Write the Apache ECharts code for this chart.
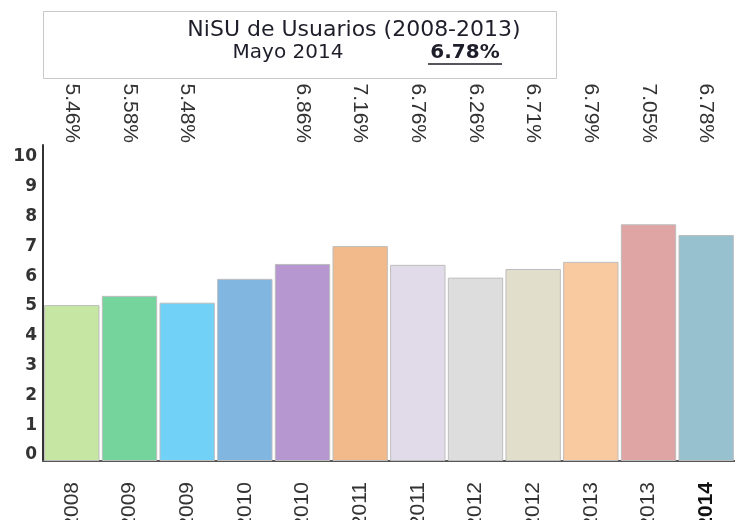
<!DOCTYPE html>
<html>
<head>
<meta charset="utf-8">
<script src="https://cdn.jsdelivr.net/npm/echarts@6/dist/echarts.min.js"></script>
<style>
  html, body { margin: 0; padding: 0; background: #fff; }
  #chart { width: 735px; height: 520px; }
</style>
</head>
<body>
<div id="chart"></div>
<script>
// NiSU de Usuarios - barras por periodo
const years = ["2008", "2009", "2009", "2010", "2010", "2011", "2011", "2012", "2012", "2013", "2013", "2014"];
const values = [5.23, 5.54, 5.31, 6.11, 6.61, 7.21, 6.58, 6.15, 6.44, 6.68, 7.94, 7.58];
const topLabels = ["5.46%", "5.58%", "5.48%", "", "6.86%", "7.16%", "6.76%", "6.26%", "6.71%", "6.79%", "7.05%", "6.78%"];
const barColors = ["#c6e6a4", "#74d49c", "#71d1f6", "#80b6df", "#b697cf", "#f2ba8a",
  "#e1dbe9", "#dddddd", "#e1dfcb", "#f9c9a0", "#dfa5a4", "#98c1cf"];

const narrow = "'Liberation Sans', Arial, sans-serif";
const chart = echarts.init(document.getElementById("chart"));

chart.setOption({
  animation: false,
  grid: { left: 43, right: 0, top: 145, bottom: 59, containLabel: false, outerBoundsMode: "none" },
  xAxis: [
    {
      type: "category",
      position: "bottom",
      offset: 2,
      data: years.map((y, i) => i === years.length - 1
        ? { value: y, textStyle: { color: "#111", fontWeight: "bold" } }
        : y),
      axisLine: { lineStyle: { color: "#555", width: 2 } },
      axisTick: { show: false },
      axisLabel: { interval: 0, rotate: 90, margin: 19, color: "#333", fontSize: 21, fontFamily: narrow }
    },
    {
      type: "category",
      position: "top",
      data: topLabels,
      axisLine: { show: false },
      axisTick: { show: false },
      axisLabel: { interval: 0, rotate: 90, margin: 2, color: "#333", fontSize: 21, fontFamily: narrow }
    }
  ],
  yAxis: {
    type: "value",
    min: 0,
    max: 10.6,
    interval: 1,
    splitLine: { show: false },
    axisLine: { show: true, lineStyle: { color: "#333", width: 2 } },
    axisTick: { show: false },
    axisLabel: {
      margin: 6,
      verticalAlign: "bottom",
      lineHeight: 12,
      color: "#333",
      fontSize: 17,
      fontWeight: "bold",
      fontFamily: "'DejaVu Sans', Verdana, sans-serif",
      formatter: (v) => (Math.abs(v - Math.round(v)) < 1e-6 ? String(Math.round(v)) : "")
    }
  },
  series: [{
    type: "bar",
    xAxisIndex: 0,
    barCategoryGap: "4%",
    data: values.map((v, i) => ({ value: v, itemStyle: { color: barColors[i] } })),
    itemStyle: { borderColor: "#bdbdbd", borderWidth: 1 }
  }],
  graphic: [
    {
      type: "rect",
      shape: { x: 43.5, y: 11.5, width: 513, height: 67 },
      style: { fill: "#fff", stroke: "#c8c8c8", lineWidth: 1 }
    },
    {
      type: "text",
      x: 354, y: 30,
      style: {
        text: "NiSU de Usuarios (2008-2013)",
        fill: "#1e1e2a", font: "22px 'DejaVu Sans', sans-serif",
        textAlign: "center", textVerticalAlign: "middle"
      }
    },
    {
      type: "text",
      x: 288, y: 53,
      style: {
        text: "Mayo 2014",
        fill: "#1e1e2a", font: "20px 'DejaVu Sans', sans-serif",
        textAlign: "center", textVerticalAlign: "middle"
      }
    },
    {
      type: "text",
      x: 465, y: 53,
      style: {
        text: "6.78%",
        fill: "#1e1e2a", font: "bold 20px 'DejaVu Sans', sans-serif",
        textAlign: "center", textVerticalAlign: "middle"
      }
    },
    {
      type: "line",
      shape: { x1: 428, y1: 64, x2: 502, y2: 64 },
      style: { stroke: "#1e1e2a", lineWidth: 1.5 }
    }
  ]
});
</script>
</body>
</html>
